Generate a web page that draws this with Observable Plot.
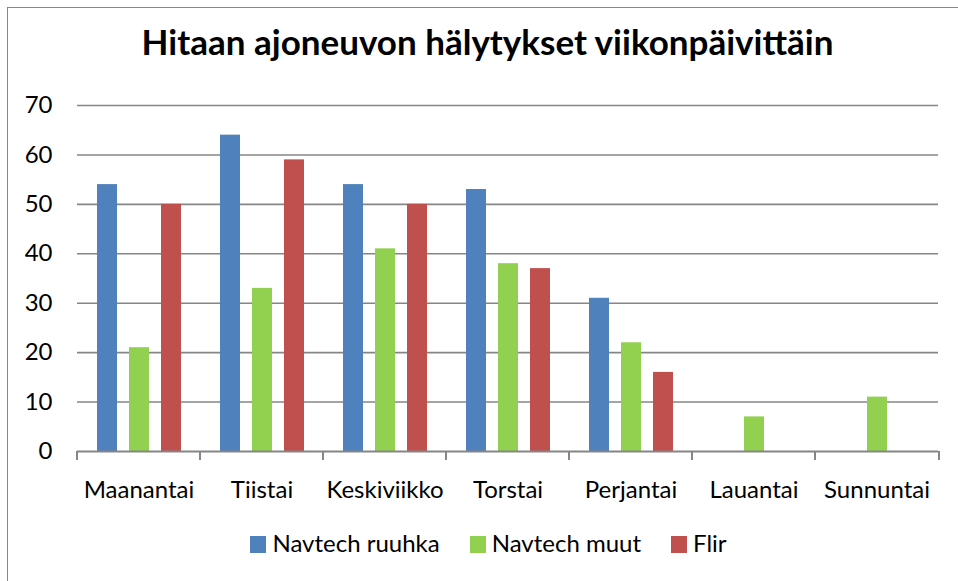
<!DOCTYPE html>
<html>
<head>
<meta charset="utf-8">
<script src="https://cdn.jsdelivr.net/npm/d3@7"></script>
<script src="https://cdn.jsdelivr.net/npm/@observablehq/plot@0.6"></script>
<style>
  html, body { margin: 0; padding: 0; background: #fff; }
  #wrap { position: relative; width: 958px; height: 581px; overflow: hidden; font-family: Lato, "Open Sans", sans-serif; color: #000; }
  #frame { position: absolute; left: 7px; top: 7px; width: 980px; height: 600px; border: 1px solid #888; box-sizing: border-box; }
  #title { position: absolute; left: 0; top: 24px; width: 975px; text-align: center; font-weight: 700; font-size: 35px; line-height: 35px; white-space: nowrap; }
  #chart { position: absolute; left: 0; top: 90px; }
  #legend { position: absolute; left: 0; top: 531px; width: 977px; display: flex; justify-content: center; font-size: 24px; line-height: 24px; }
  .item { display: flex; align-items: flex-start; margin: 0 15px; }
  .sw { width: 16px; height: 17px; margin-top: 5px; margin-right: 6px; }
</style>
</head>
<body>
<div id="wrap">
  <div id="frame"></div>
  <div id="title"></div>
  <div id="chart"></div>
  <div id="legend"></div>
</div>
<script>
const titleText = "Hitaan ajoneuvon hälytykset viikonpäivittäin";
const days = ["Maanantai", "Tiistai", "Keskiviikko", "Torstai", "Perjantai", "Lauantai", "Sunnuntai"];
const seriesNames = ["Navtech ruuhka", "Navtech muut", "Flir"];
const seriesColors = ["#4F81BD", "#92D050", "#C0504D"];
const navtechRuuhka = [54, 64, 54, 53, 31, 0, 0];
const navtechMuut = [21, 33, 41, 38, 22, 7, 11];
const flir = [50, 59, 50, 37, 16, 0, 0];
const yTicks = [0, 10, 20, 30, 40, 50, 60, 70];

const seriesValues = [navtechRuuhka, navtechMuut, flir];
const table = [];
days.forEach((day, i) => {
  seriesNames.forEach((s, j) => {
    table.push({day, series: s, value: seriesValues[j][i]});
  });
});

document.getElementById("title").textContent = titleText;

const chart = Plot.plot({
  width: 958,
  height: 425,
  marginTop: 15,
  marginLeft: 75,
  marginRight: 19,
  marginBottom: 64,
  style: {fontFamily: "Lato, 'Open Sans', sans-serif", fontSize: "24px", color: "#000", background: "transparent", overflow: "visible"},
  facet: {data: table, x: "day"},
  fx: {domain: days, padding: 0, axis: "bottom", tickSize: 0, tickPadding: 29, label: null},
  x: {domain: seriesNames, axis: null, paddingInner: 0.39, paddingOuter: 0.56},
  y: {domain: [0, 70], ticks: yTicks, tickSize: 0, tickPadding: 25, label: null, tickFormat: d => String(d)},
  color: {domain: seriesNames, range: seriesColors},
  marks: [
    Plot.ruleY(yTicks.filter(t => t > 0), {stroke: "#868686", strokeWidth: 1.6, strokeOpacity: 1}),
    Plot.barY(table, {x: "series", y: "value", fill: "series"}),
    Plot.ruleY([0], {stroke: "#868686", strokeWidth: 2, strokeOpacity: 1})
  ]
});
document.getElementById("chart").appendChild(chart);

// category boundary ticks, placed through the library's own scales
try {
  const fx = chart.scale("fx");
  const y = chart.scale("y");
  const y0 = y.apply(0);
  const xs = days.map(d => fx.apply(d));
  xs.push(fx.range[1]);
  const svg = d3.select(chart);
  svg.append("g")
    .attr("stroke", "#868686")
    .attr("stroke-width", 2)
    .selectAll("line")
    .data(xs)
    .join("line")
    .attr("x1", d => d).attr("x2", d => d)
    .attr("y1", y0).attr("y2", y0 + 9);
} catch (e) { console.error(e); }

const legend = document.getElementById("legend");
seriesNames.forEach((s, j) => {
  const item = document.createElement("div");
  item.className = "item";
  const sw = document.createElement("div");
  sw.className = "sw";
  sw.style.background = seriesColors[j];
  const label = document.createElement("span");
  label.textContent = s;
  item.appendChild(sw);
  item.appendChild(label);
  legend.appendChild(item);
});
</script>
</body>
</html>
